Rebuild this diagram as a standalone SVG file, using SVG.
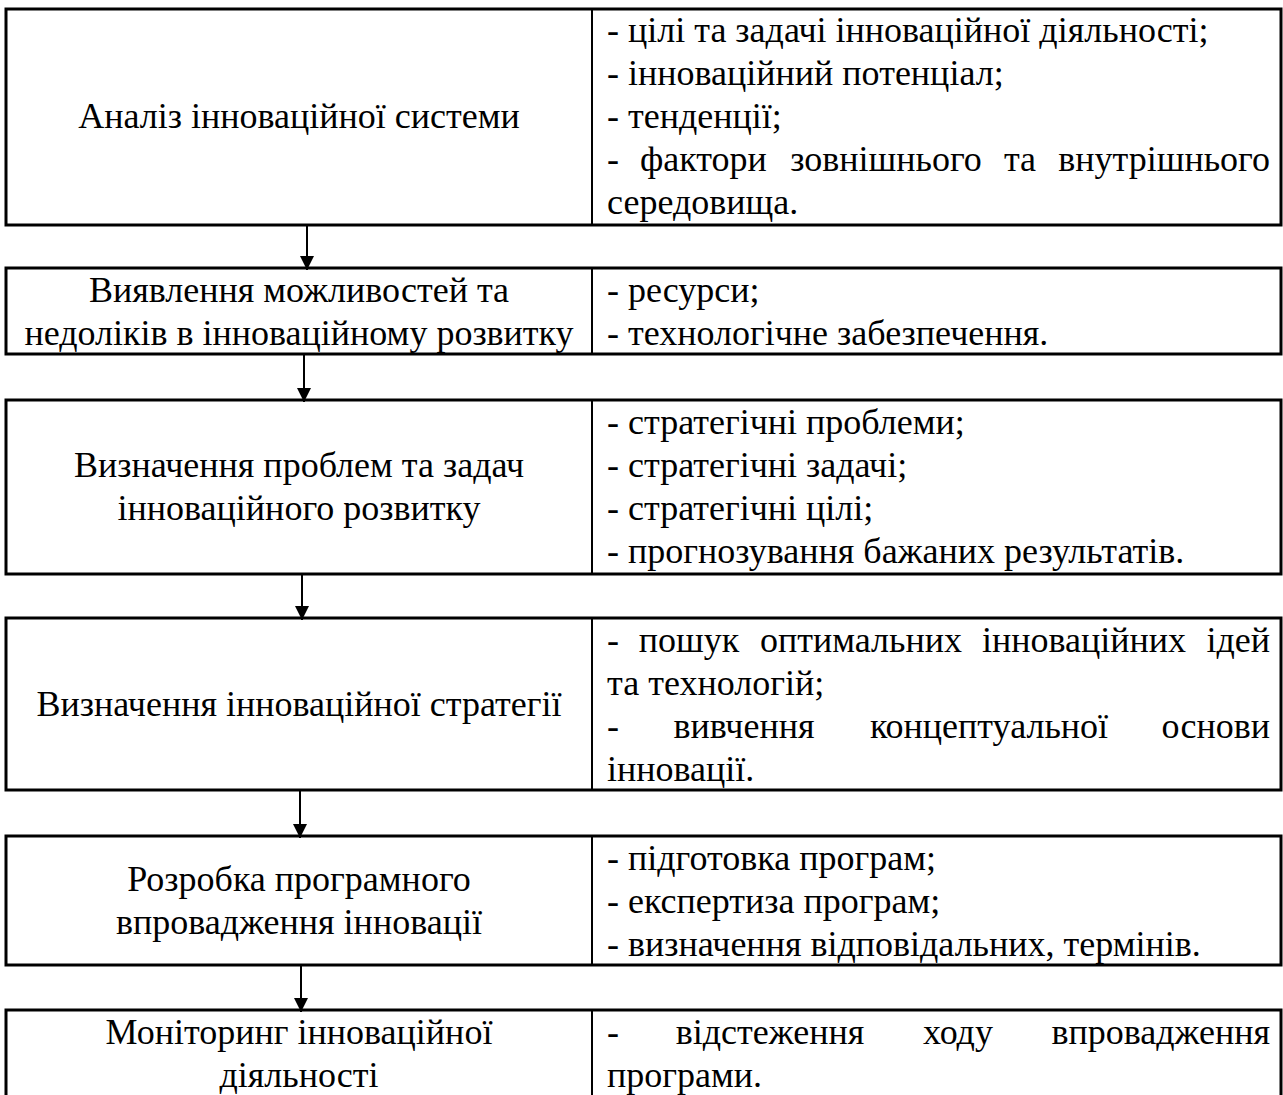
<svg xmlns="http://www.w3.org/2000/svg" width="1283" height="1095" viewBox="0 0 1283 1095">
  <defs>
    <marker id="arrowhead" markerUnits="userSpaceOnUse" markerWidth="14" markerHeight="14" refX="14" refY="7" orient="auto">
      <path d="M0,0 L14,7 L0,14 z" fill="#000"/>
    </marker>
    <style>
      .frame { fill: #fff; stroke: #000; stroke-width: 3; }
      .divider { stroke: #000; stroke-width: 2; }
      .link { stroke: #000; stroke-width: 2; fill: none; marker-end: url(#arrowhead); }
      text { font-family: "Liberation Serif", "Times New Roman", serif; font-size: 36px; fill: #000; }
      .c { text-anchor: middle; }
      .e { text-anchor: end; }
    </style>
  </defs>
  <rect width="1283" height="1095" fill="#fff"/>

  <!-- step 1 -->
  <g id="step-analysis">
    <rect class="frame" x="6" y="9" width="1275" height="216"/>
    <line class="divider" x1="592" y1="9" x2="592" y2="225"/>
    <text class="c" x="299" y="128">Аналіз інноваційної системи</text>
    <text x="607" y="42">- цілі та задачі інноваційної діяльності;</text>
    <text x="607" y="85">- інноваційний потенціал;</text>
    <text x="607" y="128">- тенденції;</text>
    <text y="171"><tspan x="607">-</tspan><tspan x="640">фактори</tspan><tspan class="c" x="886">зовнішнього</tspan><tspan class="c" x="1020">та</tspan><tspan class="e" x="1270">внутрішнього</tspan></text>
    <text x="607" y="214">середовища.</text>
  </g>

  <!-- step 2 -->
  <g id="step-opportunities">
    <rect class="frame" x="6" y="268" width="1275" height="86"/>
    <line class="divider" x1="592" y1="268" x2="592" y2="354"/>
    <text class="c" x="299" y="302">Виявлення можливостей та</text>
    <text class="c" x="299" y="345">недоліків в інноваційному розвитку</text>
    <text x="607" y="302">- ресурси;</text>
    <text x="607" y="345">- технологічне забезпечення.</text>
  </g>

  <!-- step 3 -->
  <g id="step-problems">
    <rect class="frame" x="6" y="400" width="1275" height="174"/>
    <line class="divider" x1="592" y1="400" x2="592" y2="574"/>
    <text class="c" x="299" y="477">Визначення проблем та задач</text>
    <text class="c" x="299" y="520">інноваційного розвитку</text>
    <text x="607" y="434">- стратегічні проблеми;</text>
    <text x="607" y="477">- стратегічні задачі;</text>
    <text x="607" y="520">- стратегічні цілі;</text>
    <text x="607" y="563">- прогнозування бажаних результатів.</text>
  </g>

  <!-- step 4 -->
  <g id="step-strategy">
    <rect class="frame" x="6" y="618" width="1275" height="172"/>
    <line class="divider" x1="592" y1="618" x2="592" y2="790"/>
    <text class="c" x="299" y="716">Визначення інноваційної стратегії</text>
    <text y="652"><tspan x="607">-</tspan><tspan class="c" x="689">пошук</tspan><tspan class="c" x="861">оптимальних</tspan><tspan class="c" x="1084">інноваційних</tspan><tspan class="e" x="1270">ідей</tspan></text>
    <text x="607" y="695">та технологій;</text>
    <text y="738"><tspan x="607">-</tspan><tspan class="c" x="744">вивчення</tspan><tspan class="c" x="989">концептуальної</tspan><tspan class="e" x="1270">основи</tspan></text>
    <text x="607" y="781">інновації.</text>
  </g>

  <!-- step 5 -->
  <g id="step-program">
    <rect class="frame" x="6" y="836" width="1275" height="129"/>
    <line class="divider" x1="592" y1="836" x2="592" y2="965"/>
    <text class="c" x="299" y="891">Розробка програмного</text>
    <text class="c" x="299" y="934">впровадження інновації</text>
    <text x="607" y="870">- підготовка програм;</text>
    <text x="607" y="913">- експертиза програм;</text>
    <text x="607" y="956">- визначення відповідальних, термінів.</text>
  </g>

  <!-- step 6 -->
  <g id="step-monitoring">
    <rect class="frame" x="6" y="1010" width="1275" height="88"/>
    <line class="divider" x1="592" y1="1010" x2="592" y2="1098"/>
    <text class="c" x="299" y="1044">Моніторинг інноваційної</text>
    <text class="c" x="299" y="1087">діяльності</text>
    <text y="1044"><tspan x="607">-</tspan><tspan class="c" x="770">відстеження</tspan><tspan class="c" x="958">ходу</tspan><tspan class="e" x="1270">впровадження</tspan></text>
    <text x="607" y="1087">програми.</text>
  </g>

  <!-- flow arrows between steps -->
  <g id="connectors">
    <line class="link" x1="307" y1="225" x2="307" y2="270"/>
    <line class="link" x1="304" y1="354" x2="304" y2="402"/>
    <line class="link" x1="302" y1="574" x2="302" y2="620"/>
    <line class="link" x1="300" y1="790" x2="300" y2="838"/>
    <line class="link" x1="301" y1="965" x2="301" y2="1012"/>
  </g>
</svg>
